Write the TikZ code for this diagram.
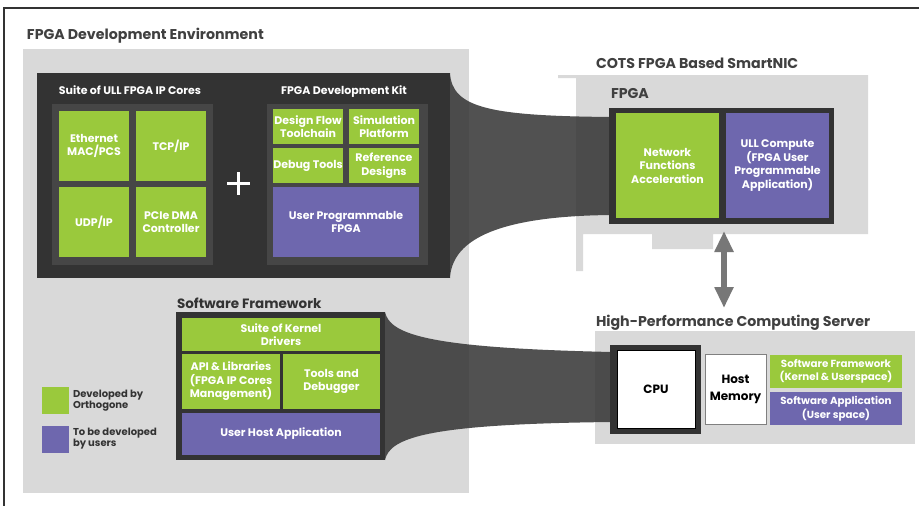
\documentclass[tikz,border=0pt]{standalone}
\usepackage{fontspec}
\setmainfont{Poppins}
\usetikzlibrary{arrows.meta}
\definecolor{gpanel}{HTML}{D9D9D9}
\definecolor{dk}{HTML}{333333}
\definecolor{dkin}{HTML}{464646}
\definecolor{grn}{HTML}{9AC93C}
\definecolor{pur}{HTML}{6E67AE}
\definecolor{ttl}{HTML}{404040}
\definecolor{arrg}{HTML}{777777}
\newcommand\lbl{\bfseries\fontsize{11}{13.5}\selectfont}
\newcommand\smlbl{\fontsize{10.3}{12.5}\selectfont}
\newcommand\ttlfont{\bfseries\fontsize{14.2}{17}\selectfont}
\newcommand\rb[7]{\node[#1, minimum width={(#5)-(#3)}, minimum height={(#6)-(#4)}] (#2) at (#3,#4) {#7};}
\begin{document}
\begin{tikzpicture}[x=1pt,y=-1pt,
  plain/.style={anchor=north west, inner sep=0, outer sep=0},
  panel/.style={plain, fill=gpanel},
  dbox/.style={plain, fill=dk},
  ibox/.style={plain, fill=dkin},
  gbox/.style={plain, fill=grn, text=white, font=\lbl, align=center},
  pbox/.style={plain, fill=pur, text=white, font=\lbl, align=center},
  wbox/.style={plain, fill=white, text=black, font=\bfseries\fontsize{12}{17}\selectfont, align=center},
  ttext/.style={inner sep=0, outer sep=0, anchor=base west, text=ttl, font=\ttlfont},
  htext/.style={inner sep=0, outer sep=0, anchor=base, text=white, font=\lbl},
  legtext/.style={inner sep=0, outer sep=0, anchor=west, text=dk, align=left, font=\bfseries\fontsize{10}{9}\selectfont},
  funnel/.style={fill=dk, opacity=0.85},
  dblarrow/.style={draw=arrg, line width=6pt, {Triangle[width=18pt,length=21pt]}-{Triangle[width=18pt,length=21pt]}}
]
\useasboundingbox (0,0) rectangle (919,506);
\fill[white] (0,0) rectangle (919,506);
\draw[dk, line width=1.4pt] (4,506) -- (4,8) -- (919,8);

% ---------- FPGA development environment ----------
\rb{panel}{env}{23}{49}{469}{493}{}
\node[ttext] (envt) at (27,39) {FPGA Development Environment};

\rb{dbox}{dark}{37}{73}{450}{278}{}
\node[htext] (suitet) at (130,94) {Suite of ULL FPGA IP Cores};
\node[htext] (kitt) at (344,94) {FPGA Development Kit};

\rb{ibox}{ipin}{52}{104}{213}{265}{}
\rb{gbox}{eth}{59}{111}{129}{181}{Ethernet\\MAC/PCS}
\rb{gbox}{tcp}{136}{111}{206}{181}{TCP/IP}
\rb{gbox}{udp}{59}{187}{129}{257}{UDP/IP}
\rb{gbox}{pcie}{136}{187}{206}{257}{PCIe DMA\\Controller}

\node[inner sep=0, minimum size=22pt] (plus) at (238.5,183.5) {};
\draw[white, line width=2.2pt] (plus.west) -- (plus.east) (plus.north) -- (plus.south);

\rb{ibox}{kitin}{267}{104}{428}{265}{}
\rb{gbox}{dft}{273}{109}{343}{144}{Design Flow\\Toolchain}
\rb{gbox}{sim}{349}{109}{419}{144}{Simulation\\Platform}
\rb{gbox}{dbg}{273}{148}{343}{183}{Debug Tools}
\rb{gbox}{ref}{349}{148}{419}{183}{Reference\\Designs}
\rb{pbox}{upf}{273}{187}{419}{257}{User Programmable\\FPGA}

% ---------- software framework ----------
\node[ttext, text=dk, font=\bfseries\fontsize{13.5}{15}\selectfont] (swt) at (177,308) {Software Framework};
\rb{dbox}{sw}{176}{312}{385}{460}{}
\rb{gbox}{kern}{182}{318}{380}{351}{Suite of Kernel\\Drivers}
\rb{gbox}{api}{182}{354}{280}{409}{API \& Libraries\\(FPGA IP Cores\\Management)}
\rb{gbox}{tools}{283}{354}{380}{409}{Tools and\\Debugger}
\rb{pbox}{uha}{182}{413}{380}{455}{User Host Application}

% ---------- legend ----------
\rb{gbox}{leg1}{42}{387}{69}{414}{}
\rb{pbox}{leg2}{42}{426}{69}{453}{}
\node[legtext] (leg1t) at (73,401) {Developed by\\Orthogone};
\node[legtext] (leg2t) at (73,439) {To be developed\\by users};

% ---------- SmartNIC board ----------
\fill[gpanel] (558,75) -- (868,75) -- (868,234) -- (713,234) -- (713,249) -- (652,249)
  -- (652,234) -- (583,234) -- (583,271) -- (576,271) -- (576,78) -- (558,78) -- cycle;
\node[ttext] (nict) at (596,68) {COTS FPGA Based SmartNIC};
\node[ttext] (fpgat) at (611,98) {FPGA};

% ---------- HPC server ----------
\rb{panel}{hpc}{595}{331}{915}{444}{}
\node[ttext] (hpct) at (596,326) {High-Performance Computing Server};

% ---------- funnels ----------
\fill[funnel] (dark.north east) .. controls (452,108) and (490,116) .. (612,117)
  -- (612,215) .. controls (490,216) and (452,243) .. (dark.south east) -- cycle;
\fill[funnel] (sw.north east) .. controls (390,335) and (430,348) .. (612,352)
  -- (612,422) .. controls (430,424) and (390,437) .. (sw.south east) -- cycle;

% ---------- FPGA on NIC ----------
\rb{dbox}{fpga}{609}{108}{834}{224}{}
\rb{gbox}{nfa}{616}{113}{719}{218}{Network\\Functions\\Acceleration}
\rb{pbox}{ull}{726}{113}{829}{218}{ULL Compute\\(FPGA User\\Programmable\\Application)}

% ---------- server parts ----------
\rb{dbox}{cpuf}{610}{345}{701}{434}{}
\rb{wbox}{cpu}{617}{350}{695}{428}{CPU}
\draw[black, line width=0.8pt] (cpu.north west) rectangle (cpu.south east);
\rb{wbox}{mem}{705}{354}{766}{424}{Host\\Memory}
\draw[gray, line width=1pt] (mem.north west) rectangle (mem.south east);
\rb{gbox}{swf}{770}{355}{902}{388}{\smlbl Software Framework\\\smlbl(Kernel \& Userspace)}
\rb{pbox}{swa}{770}{392}{902}{425}{\smlbl Software Application\\\smlbl(User space)}

% ---------- arrow ----------
\coordinate (a1) at (724,231);
\coordinate (a2) at (724,308);
\draw[dblarrow] (a1) -- (a2);
\end{tikzpicture}
\end{document}
